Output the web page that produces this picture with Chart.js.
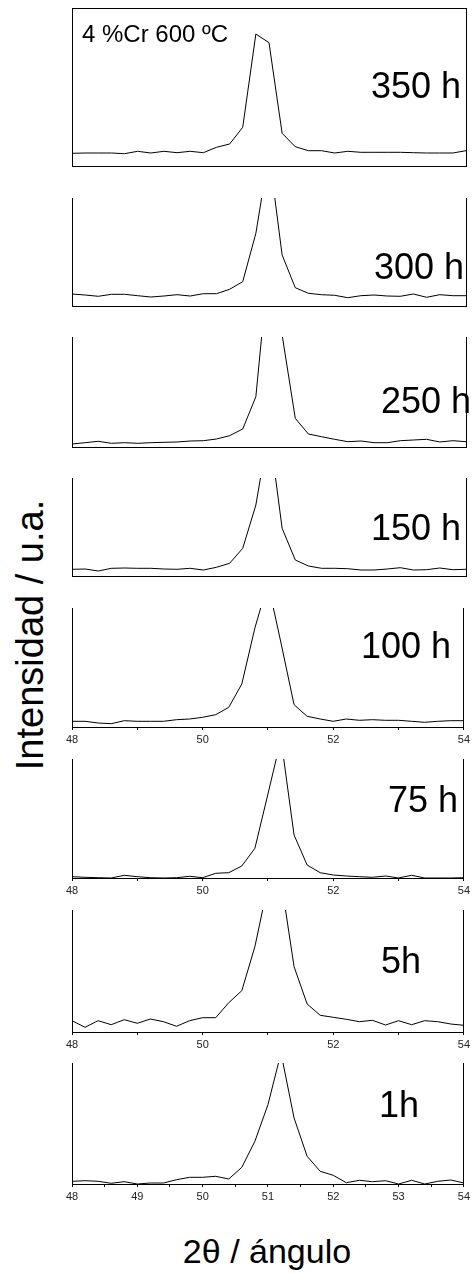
<!DOCTYPE html>
<html>
<head>
<meta charset="utf-8">
<script src="https://cdn.jsdelivr.net/npm/chart.js@4"></script>
<style>
body{margin:0;background:#fff;width:473px;height:1274px;position:relative;overflow:hidden;font-family:"Liberation Sans",Arial,sans-serif;}
.panel{position:absolute;left:0;width:473px;}
.txt{position:absolute;white-space:nowrap;color:#000;}
</style>
</head>
<body>
<div id="yTitle" class="txt">Intensidad / u.a.</div>
<div id="xTitle" class="txt">2θ / ángulo</div>
<script>
// 2theta positions of the scan (step 0.2)
const angle = [48.0,48.2,48.4,48.6,48.8,49.0,49.2,49.4,49.6,49.8,50.0,50.2,50.4,50.6,50.8,51.0,51.2,51.4,51.6,51.8,52.0,52.2,52.4,52.6,52.8,53.0,53.2,53.4,53.6,53.8,54.0];

// intensities (a.u.)
const i350 = [12.7,13.0,13.0,13.0,12.3,14.7,13.0,14.7,13.3,14.7,13.3,18.7,22.0,38.7,132.0,123.3,32.7,19.3,15.3,15.3,13.0,14.7,13.7,13.7,13.7,13.7,13.3,13.0,13.0,13.0,15.3];
const i300 = [12.0,11.0,9.7,11.7,11.7,10.3,9.0,10.0,11.3,10.0,12.3,12.3,16.7,24.3,72.7,153.0,51.0,18.3,12.7,11.3,10.7,8.3,10.3,11.0,10.0,9.7,12.0,8.7,11.3,10.3,10.3];
const i250 = [3.0,4.3,5.7,3.7,4.3,3.7,4.3,4.7,5.0,6.0,6.3,8.0,11.3,18.0,50.3,187.0,112.0,28.7,13.0,10.3,7.7,5.3,6.0,4.3,4.3,6.3,7.0,7.7,5.0,6.3,5.3];
const i150 = [6.7,7.0,5.0,7.7,8.0,7.7,7.7,7.0,6.7,7.7,6.0,8.7,12.7,27.7,71.0,148.0,47.7,16.0,10.0,7.7,7.7,7.3,6.0,6.0,7.0,8.3,6.0,6.3,8.0,6.3,6.7];
const i100 = [5.7,5.7,4.0,3.3,6.3,5.7,5.7,5.7,7.3,8.0,9.7,12.3,19.7,43.0,99.0,144.0,84.0,22.3,10.7,8.0,5.7,8.0,6.7,7.3,6.7,6.7,5.7,4.7,5.7,6.3,6.3];
const i75  = [1.3,0.7,0.3,0.0,2.7,1.3,0.3,0.0,0.3,1.7,0.3,4.7,5.3,12.0,29.7,84.0,139.0,43.0,13.0,5.3,3.0,2.0,1.3,0.7,2.0,0.0,2.7,0.0,0.0,0.0,0.3];
const i5   = [11.3,4.7,11.3,7.3,12.3,8.7,13.0,10.3,5.7,11.3,14.3,14.3,29.3,41.3,85.3,147.0,152.0,65.3,28.0,16.7,14.7,12.7,10.3,11.7,7.0,11.3,7.3,11.3,10.3,8.0,6.7];
const i1   = [2.7,3.3,2.7,0.7,2.3,0.0,1.0,1.0,4.3,6.7,6.7,7.7,5.0,16.7,42.7,79.3,131.0,66.0,27.7,12.7,8.7,1.3,3.7,2.3,3.3,0.0,3.7,0.0,2.7,4.0,1.0];

const series = [i350, i300, i250, i150, i100, i75, i5, i1];
const times = ['350 h','300 h','250 h','150 h','100 h','75 h','5h','1h'];
const yMaxes = [158, 108, 110, 98, 119, 119, 122, 121];

// layout of the stacked panels (page pixels)
const panels = [
  {top: 8,    bottom: 166,  box: true, lx: 371, ly: 98},
  {top: 198,  bottom: 306,  lx: 374, ly: 279},
  {top: 337,  bottom: 447,  lx: 381, ly: 413},
  {top: 478,  bottom: 576,  lx: 371, ly: 540},
  {top: 608,  bottom: 727,  step: 1,   every: 2, lx: 361, ly: 658},
  {top: 759,  bottom: 878,  step: 1,   every: 2, lx: 388, ly: 812},
  {top: 910,  bottom: 1032, step: 1,   every: 2, lx: 381, ly: 973},
  {top: 1063, bottom: 1184, step: 0.5, every: 1, lx: 379, ly: 1117}
];

const FONT = '"Liberation Sans", Arial, sans-serif';

function addText(str, left, baseline, size) {
  const d = document.createElement('div');
  d.className = 'txt';
  d.textContent = str;
  d.style.fontSize = size + 'px';
  d.style.lineHeight = size + 'px';
  d.style.left = left + 'px';
  d.style.top = (baseline - 0.8465 * size) + 'px';
  document.body.appendChild(d);
}

function edge(pos) {
  return {
    position: pos, min: 0, max: 1, display: true,
    grid: {display: false}, ticks: {display: false},
    border: {display: true, color: '#000', width: 1},
    afterFit: s => { if (pos === 'top') s.height = 0; else s.width = 0; }
  };
}

panels.forEach((p, k) => {
  const xh = p.step ? 20 : 1;
  const H = p.bottom - p.top + 2 + xh;
  const wrap = document.createElement('div');
  wrap.className = 'panel';
  wrap.style.top = (p.top - 2) + 'px';
  wrap.style.height = H + 'px';
  const cv = document.createElement('canvas');
  cv.width = 473; cv.height = H;
  wrap.appendChild(cv);
  document.body.appendChild(wrap);

  const scales = {
    x: {
      type: 'linear', position: 'bottom', min: 48, max: 54,
      grid: {display: !!p.step, drawOnChartArea: false, drawTicks: true, tickLength: 3, color: '#000'},
      border: {display: true, color: '#000', width: 1},
      ticks: {
        display: !!p.step, stepSize: p.step || 1, autoSkip: false, maxRotation: 0,
        padding: 3, color: '#222', font: {size: 11, family: FONT},
        callback: v => {
          if (!p.every) return '';
          const r = v / p.every;
          return Math.abs(r - Math.round(r)) < 1e-6 ? String(v) : '';
        }
      },
      afterFit: s => { s.height = xh; }
    },
    y: {
      position: 'left', min: 0, max: yMaxes[k],
      grid: {display: false}, ticks: {display: false},
      border: {display: true, color: '#000', width: 1},
      afterFit: s => { s.width = 0; }
    },
    y2: edge('right')
  };
  if (p.box) scales.x2 = edge('top');

  new Chart(cv, {
    type: 'line',
    data: {
      datasets: [{
        data: angle.map((a, i) => ({x: a, y: series[k][i]})),
        borderColor: '#000', borderWidth: 1, pointRadius: 0, tension: 0, fill: false
      }]
    },
    options: {
      responsive: false, animation: false, events: [],
      layout: {padding: {left: 72, right: 7, top: 2, bottom: 0}},
      plugins: {legend: {display: false}, tooltip: {enabled: false}},
      scales: scales
    }
  });

  addText(times[k], p.lx, p.ly, 36);
});

addText('4 %Cr 600 ºC', 82, 42, 24);

const yt = document.getElementById('yTitle');
yt.style.fontSize = '38px'; yt.style.lineHeight = '38px';
yt.style.left = '30px'; yt.style.top = '635px';
yt.style.transform = 'translate(-50%,-50%) rotate(-90deg)';

const xt = document.getElementById('xTitle');
xt.style.fontSize = '34px'; xt.style.lineHeight = '34px';
xt.style.left = '267px'; xt.style.top = (1263 - 0.8465 * 34) + 'px';
xt.style.transform = 'translateX(-50%)';
</script>
</body>
</html>
